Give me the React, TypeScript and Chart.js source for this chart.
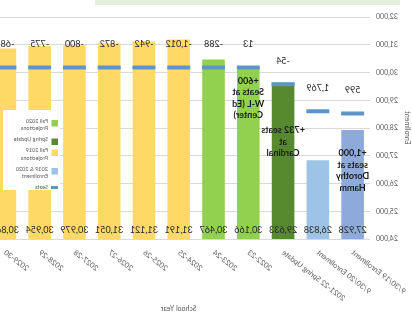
import React, { useEffect, useRef } from "react";
import { Chart, registerables } from "chart.js";
Chart.register(...registerables);

// ---- data ----
const categories = [
  "9/30/19 Enrollment",
  "9/30/20 Enrollment",
  "2021-22 Spring Update",
  "2022-23",
  "2023-24",
  "2024-25",
  "2025-26",
  "2026-27",
  "2027-28",
  "2028-29",
  "2029-30",
];
const enrollment = [27928, 26838, 29633, 30166, 30467, 31191, 31121, 31051, 30979, 30954, 30865];
const seats = [28527, 28607, 29579, 30179, 30179, 30179, 30179, 30179, 30179, 30179, 30179];
const seriesKey = ["enr19", "enr20", "spring", "fall20", "fall20", "fall19", "fall19", "fall19", "fall19", "fall19", "fall19"];
const yMin = 24000;
const yMax = 32000;
const yStep = 1000;
const notes: string[][] = [
  ["+1,000", "seats at", "Dorothy", "Hamm"],
  [],
  ["+732 seats", "at", "Cardinal"],
  ["+600", "Seats at", "W-L (Ed", "Center)"],
  [], [], [], [], [], [], [],
];
const noteAnchor: (number | null)[] = [27085, null, 27910, 29704, null, null, null, null, null, null, null];
const legendItems = [
  { lines: ["Fall 2020", "Projections"], key: "fall20" },
  { lines: ["Spring Update"], key: "spring" },
  { lines: ["Fall 2019", "Projections"], key: "fall19" },
  { lines: ["2019 & 2020", "Enrollment"], key: "enr20" },
  { lines: ["Seats"], key: "seats" },
];

// ---- styles ----
const COLORS: Record<string, string> = {
  enr19: "#8eaadb",
  enr20: "#9dc3e6",
  spring: "#578a2e",
  fall20: "#92d050",
  fall19: "#ffd966",
  seats: "#5b95c9",
};
const FONT = "Lato, 'Liberation Sans', sans-serif";
const W = 440;
const H = 314;

const fmt = (n: number) => n.toLocaleString("en-US");

const overlay = {
  id: "overlay",
  beforeDraw(chart: any) {
    const ctx = chart.ctx;
    ctx.save();
    ctx.fillStyle = "#e2efda";
    ctx.fillRect(12, 0, 305, 5);
    ctx.restore();
  },
  afterDatasetsDraw(chart: any) {
    const ctx = chart.ctx;
    const x = chart.scales.x;
    const y = chart.scales.y;
    const base = y.getPixelForValue(yMin);
    ctx.save();
    ctx.textAlign = "center";
    ctx.textBaseline = "middle";
    ctx.fillStyle = "#262626";
    ctx.font = `9px ${FONT}`;
    enrollment.forEach((v, i) => {
      const px = x.getPixelForValue(i);
      ctx.fillText(fmt(v), px, base - 9);
      const diff = seats[i] - v;
      ctx.fillText(fmt(diff), px, y.getPixelForValue(seats[i]) - 23);
    });
    ctx.font = `bold 9px ${FONT}`;
    ctx.fillStyle = "#1a1a1a";
    notes.forEach((lines, i) => {
      const a = noteAnchor[i];
      if (a == null) return;
      const px = x.getPixelForValue(i);
      const py = y.getPixelForValue(a);
      lines.forEach((t, k) => ctx.fillText(t, px, py + k * 11.5));
    });
    // legend box
    const lx = 352, ly = 110, lw = 57, lh = 80;
    ctx.fillStyle = "#ffffff";
    ctx.fillRect(lx, ly, lw, lh);
    ctx.font = `5.5px ${FONT}`;
    ctx.textAlign = "left";
    let cy = ly + 11;
    legendItems.forEach((it) => {
      ctx.fillStyle = COLORS[it.key];
      if (it.key === "seats") ctx.fillRect(lx + 2, cy - 1.5, 7, 3);
      else ctx.fillRect(lx + 2, cy - 1, 6.5, 6.5);
      ctx.fillStyle = "#595959";
      it.lines.forEach((t, k) => ctx.fillText(t, lx + 12, cy + k * 7.5));
      cy += it.lines.length * 7.5 + 3.5;
    });
    ctx.restore();
  },
};

export default function App() {
  const ref = useRef<HTMLCanvasElement>(null);
  useEffect(() => {
    if (!ref.current) return;
    Chart.defaults.font.family = FONT;
    const chart = new Chart(ref.current, {
      type: "bar",
      data: {
        labels: categories,
        datasets: [
          {
            type: "line",
            label: "Seats",
            data: seats,
            showLine: false,
            pointStyle: "line",
            pointRadius: 11.5,
            pointHoverRadius: 11.5,
            pointBorderWidth: 4,
            borderColor: COLORS.seats,
            backgroundColor: COLORS.seats,
            order: 1,
          } as any,
          {
            type: "bar",
            label: "Enrollment",
            data: enrollment,
            backgroundColor: seriesKey.map((k) => COLORS[k]),
            barPercentage: 0.65,
            categoryPercentage: 1,
            order: 2,
          },
        ],
      },
      options: {
        animation: false,
        responsive: false,
        events: [],
        layout: { padding: { top: 17, right: 7.5, left: 0, bottom: 0 } },
        plugins: { legend: { display: false }, tooltip: { enabled: false } },
        scales: {
          x: {
            offset: true,
            grid: { display: false, drawTicks: true, tickLength: 6 },
            border: { display: false },
            ticks: { minRotation: 38, maxRotation: 38, autoSkip: false, color: "#595959", font: { size: 7.5 }, padding: 3 },
            title: { display: true, text: "School Year", color: "#595959", font: { size: 7 }, padding: { top: 2, bottom: 1 } },
            afterFit: (s: any) => { s.height = 75; },
          },
          y: {
            min: yMin,
            max: yMax,
            grid: { color: "#d9d9d9", drawTicks: false },
            border: { display: false },
            ticks: { stepSize: yStep, color: "#595959", font: { size: 7 }, padding: 6 },
            title: { display: true, text: "Enrollment", color: "#595959", font: { size: 7 }, padding: { top: 1, bottom: 3 } },
            afterFit: (s: any) => { s.width = 42; },
          },
        },
      },
      plugins: [overlay],
    });
    return () => chart.destroy();
  }, []);
  return (
    <div style={{ position: "fixed", left: 0, top: 0, width: 412, height: 314, overflow: "hidden", background: "#fff" }}>
      <div style={{ position: "absolute", left: 412 - W, top: 0, width: W, height: H, transform: "scaleX(-1)" }}>
        <canvas ref={ref} width={W} height={H} style={{ display: "block", width: W, height: H }} />
      </div>
    </div>
  );
}
